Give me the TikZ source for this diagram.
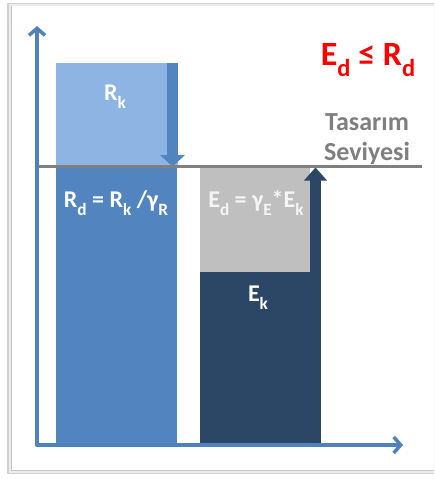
\documentclass[tikz,border=0pt]{standalone}
\usepackage{fontspec}
\setmainfont{Carlito}
\usetikzlibrary{arrows.meta}
\definecolor{axisblue}{HTML}{4F81BD}
\definecolor{rklight}{HTML}{8EB4E3}
\definecolor{rdblue}{HTML}{5284C0}
\definecolor{edgray}{HTML}{BFBFBF}
\definecolor{eknavy}{HTML}{2C4665}
\definecolor{levelgray}{HTML}{808080}
\definecolor{textgray}{HTML}{7F7F7F}
\newcommand\lowsub[1]{\raisebox{-0.32em}{\fontsize{0.72em}{0.8em}\selectfont #1}}
\tikzset{
  axisline/.style={draw=axisblue, line width=3.5pt, line cap=round,
    -{Straight Barb[length=7pt,width=16pt,line width=3.5pt]}},
  whitelabel/.style={text=white, font=\fontsize{24}{26}\selectfont\bfseries, inner sep=0pt},
  graylabel/.style={text=textgray, font=\fontsize{26}{28}\selectfont\bfseries, inner sep=0pt},
}
\begin{document}
\begin{tikzpicture}[x=1pt,y=-1pt]
\useasboundingbox (0,0) rectangle (434,479);
\fill[white] (0,0) rectangle (434,479);
% frame with shadow
\begin{scope}
\clip (0,0) rectangle (434,479);
\fill[gray!35] (7,3) rectangle (450,474);
\fill[gray!15] (9,4) rectangle (450,473);
\fill[white] (11,6) rectangle (450,470);
\draw[gray!45, line width=1pt] (11,6) -- (11,470) -- (450,470);
\end{scope}
% bars
\fill[rklight] (56,63) rectangle (178,166);
\fill[rdblue] (56,168) rectangle (177,445);
\fill[rdblue] (167,63) rectangle (178,155);
\fill[rdblue] (160,155) -- (185,155) -- (172.5,166.5) -- cycle;
\fill[edgray] (200,168) rectangle (310,272);
\fill[eknavy] (200,272) rectangle (321,445);
\fill[eknavy] (310,180) rectangle (321,272);
\fill[eknavy] (304,180.5) -- (327,180.5) -- (315.5,167.5) -- cycle;
% design level
\coordinate (lvlA) at (38,166);
\coordinate (lvlB) at (422,166);
\draw[levelgray, line width=3pt] (lvlA) -- (lvlB);
% axes
\coordinate (origin) at (37,445);
\coordinate (ytip) at (37,26);
\coordinate (xtip) at (403,445);
\draw[axisline] (origin) -- (ytip);
\draw[axisline] (origin) -- (xtip);
% labels
\node[whitelabel] (rk) at (115,97) {R\lowsub{k}};
\node[whitelabel] (rd) at (116,203) {R\lowsub{d} = R\lowsub{k} /γ\lowsub{R}};
\node[whitelabel, text=white!92!gray] (ed) at (256,203) {E\lowsub{d} = γ\lowsub{E}*E\lowsub{k}};
\node[whitelabel] (ek) at (258,298) {E\lowsub{k}};
\node[text=red, font=\fontsize{34}{36}\selectfont\bfseries, inner sep=0pt] (cond) at (368,60) {E\lowsub{d} ≤ R\lowsub{d}};
\node[graylabel] (tas) at (367,122) {Tasarım};
\node[graylabel] (sev) at (367,153) {Seviyesi};
\end{tikzpicture}
\end{document}
